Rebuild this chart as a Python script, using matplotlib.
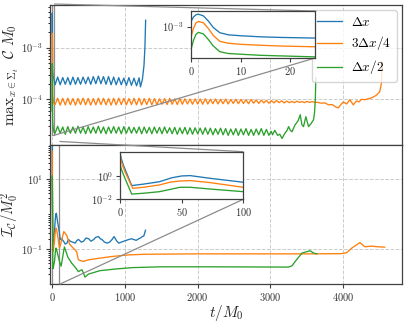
import numpy as np
import matplotlib
matplotlib.use("Agg")
import matplotlib.pyplot as plt
from matplotlib.ticker import FixedLocator, LogLocator, NullLocator, NullFormatter
from mpl_toolkits.axes_grid1.inset_locator import mark_inset

plt.rcParams['font.family'] = 'serif'
plt.rcParams['font.serif'] = ['cmr10']
plt.rcParams['mathtext.fontset'] = 'cm'
plt.rcParams['axes.unicode_minus'] = False
plt.rcParams['axes.formatter.use_mathtext'] = True

labels = [r'$\Delta x$', r'$3\Delta x/4$', r'$\Delta x/2$']
colors = ['#1f77b4', '#ff7f0e', '#2ca02c']

# ---------------- top panel: max constraint ----------------
t_early = [0, 0.5, 1, 1.5, 2.5, 3.5, 4.5, 5.8, 7.5, 10, 14, 18, 25]
c_blue_early = [1.86e-3, 3.3e-3, 4.4e-3, 4.7e-3, 3.8e-3, 2.0e-3, 8.9e-4, 4.7e-4, 3.6e-4, 3.2e-4, 2.8e-4, 2.6e-4, 2.4e-4]
c_orange_early = [2.8e-4, 7.9e-4, 1.6e-3, 1.9e-3, 1.6e-3, 7.9e-4, 3.3e-4, 1.6e-4, 1.26e-4, 1.1e-4, 9.8e-5, 8.9e-5, 8.1e-5]
c_green_early = [5.9e-5, 1.8e-4, 3.8e-4, 4.9e-4, 4.0e-4, 2.0e-4, 8.9e-5, 4.4e-5, 3.5e-5, 3.2e-5, 2.8e-5, 2.6e-5, 2.3e-5]

# oscillation extremes (troughs and peaks, alternating every half period)
t_blue_osc = np.arange(40, 1200, 35)
blue_troughs = [1.91e-4, 1.91e-4, 1.95e-4, 1.91e-4, 1.95e-4, 1.95e-4, 2.0e-4, 1.95e-4, 2.0e-4, 2.0e-4,
                1.95e-4, 1.91e-4, 1.91e-4, 1.91e-4, 1.86e-4, 1.86e-4, 1.82e-4]
blue_peaks = [2.69e-4, 2.63e-4, 2.63e-4, 2.69e-4, 2.63e-4, 2.69e-4, 2.69e-4, 2.75e-4, 2.82e-4, 2.75e-4,
              2.75e-4, 2.69e-4, 2.63e-4, 2.57e-4, 2.63e-4, 2.57e-4, 2.6e-4]
t_blue_tail = [1214, 1240, 1262, 1275, 1285]
c_blue_tail = [1.74e-4, 2.4e-4, 4.47e-4, 1.0e-3, 3.4e-3]

t_orange_osc = np.arange(40, 3640, 35)
orange_troughs = [7.9e-5, 7.7e-5, 7.8e-5, 7.8e-5, 7.7e-5, 7.9e-5, 7.8e-5, 7.7e-5, 7.8e-5, 7.9e-5,
                  7.8e-5, 7.7e-5, 7.8e-5, 7.9e-5, 7.8e-5, 7.9e-5, 7.8e-5, 7.8e-5, 7.9e-5, 7.8e-5,
                  7.9e-5, 8.0e-5, 7.9e-5, 8.0e-5, 7.9e-5, 8.0e-5, 8.1e-5, 8.0e-5, 8.1e-5, 8.0e-5,
                  8.1e-5, 8.2e-5, 8.1e-5, 8.2e-5, 8.1e-5, 8.3e-5, 8.2e-5, 8.3e-5, 8.2e-5, 8.4e-5,
                  8.3e-5, 8.5e-5, 8.4e-5, 8.5e-5, 8.6e-5, 8.5e-5, 8.6e-5, 8.6e-5, 8.7e-5, 8.6e-5,
                  8.7e-5, 8.7e-5]
orange_peaks = [1.05e-4, 1.04e-4, 1.05e-4, 1.03e-4, 1.04e-4, 1.05e-4, 1.04e-4, 1.03e-4, 1.05e-4, 1.04e-4,
                1.03e-4, 1.04e-4, 1.05e-4, 1.04e-4, 1.03e-4, 1.04e-4, 1.05e-4, 1.03e-4, 1.04e-4, 1.03e-4,
                1.02e-4, 1.03e-4, 1.04e-4, 1.02e-4, 1.03e-4, 1.02e-4, 1.01e-4, 1.02e-4, 1.01e-4, 1.02e-4,
                1.0e-4, 1.01e-4, 1.0e-4, 1.01e-4, 9.9e-5, 1.0e-4, 9.9e-5, 9.8e-5, 9.9e-5, 9.7e-5,
                9.6e-5, 9.5e-5, 9.4e-5, 9.5e-5, 9.3e-5, 9.2e-5, 9.1e-5, 9.2e-5, 9.0e-5, 9.1e-5,
                9.0e-5]
t_orange_tail = [3650, 3700, 3750, 3800, 3850, 3900, 3934, 3970, 4003, 4048, 4094, 4140, 4185,
                 4220, 4253, 4300, 4344, 4380, 4413, 4458, 4504, 4526, 4540]
c_orange_tail = [8.7e-5, 8.4e-5, 8.5e-5, 7.8e-5, 7.9e-5, 7.1e-5, 6.8e-5, 7.9e-5, 8.9e-5, 8.1e-5, 9.8e-5, 7.8e-5, 9.3e-5,
                 8.9e-5, 1.0e-4, 9.8e-5, 1.02e-4, 1.05e-4, 1.1e-4, 1.2e-4, 1.4e-4, 2.0e-4, 5.4e-4]

t_green_osc = np.arange(40, 3000, 35)
green_troughs = [2.2e-5, 2.2e-5, 2.1e-5, 2.2e-5, 2.2e-5, 2.2e-5, 2.15e-5, 2.2e-5, 2.2e-5, 2.2e-5,
                 2.15e-5, 2.2e-5, 2.2e-5, 2.15e-5, 2.2e-5, 2.2e-5, 2.2e-5, 2.15e-5, 2.2e-5, 2.15e-5,
                 2.2e-5, 2.15e-5, 2.2e-5, 2.15e-5, 2.1e-5, 2.15e-5, 2.1e-5, 2.1e-5, 2.15e-5, 2.1e-5,
                 2.1e-5, 2.05e-5, 2.1e-5, 2.05e-5, 2.0e-5, 2.05e-5, 2.0e-5, 2.05e-5, 2.0e-5, 2.0e-5,
                 2.05e-5, 2.0e-5, 2.0e-5]
green_peaks = [3.0e-5, 2.9e-5, 2.95e-5, 2.9e-5, 3.0e-5, 2.9e-5, 2.95e-5, 2.9e-5, 3.0e-5, 2.9e-5,
               2.9e-5, 2.95e-5, 2.9e-5, 2.95e-5, 2.9e-5, 2.85e-5, 2.9e-5, 2.9e-5, 2.85e-5, 2.9e-5,
               2.85e-5, 2.9e-5, 2.8e-5, 2.85e-5, 2.8e-5, 2.85e-5, 2.8e-5, 2.8e-5, 2.75e-5, 2.8e-5,
               2.75e-5, 2.7e-5, 2.75e-5, 2.7e-5, 2.65e-5, 2.7e-5, 2.65e-5, 2.7e-5, 2.6e-5, 2.65e-5,
               2.7e-5, 2.6e-5]
t_green_tail = [3010, 3030, 3060, 3100, 3130, 3160, 3200, 3230, 3251, 3275, 3297, 3340, 3380, 3411,
                3434, 3456, 3488, 3525, 3561, 3593, 3607, 3618, 3625]
c_green_tail = [2.4e-5, 2.05e-5, 2.5e-5, 2.0e-5, 2.1e-5, 1.74e-5, 2.2e-5, 2.5e-5, 2.95e-5, 2.5e-5, 2.35e-5, 3.2e-5, 3.8e-5, 5.0e-5,
                3.2e-5, 2.95e-5, 4.6e-5, 2.95e-5, 3.4e-5, 4.0e-5, 5.4e-5, 1.0e-4, 2.6e-4]

# ---------------- bottom panel: integrated constraint ----------------
t_blue_I = [0, 1, 2.7, 9.5, 19, 32, 42, 50, 57, 73, 100, 110, 130, 156, 180, 202, 225, 248, 280, 317, 340,
            363, 400, 432, 465, 501, 535, 570, 600, 639, 660, 685, 720, 754, 790, 823, 850, 869, 890, 915,
            950, 984, 1020, 1052, 1090, 1121, 1155, 1190, 1215, 1237, 1260, 1283]
I_blue = [110, 32, 8.7, 0.15, 0.2, 0.32, 0.7, 1.0, 1.07, 0.63, 0.29, 0.19, 0.2, 0.17, 0.14, 0.15, 0.19, 0.17, 0.16, 0.15, 0.18,
          0.19, 0.16, 0.17, 0.21, 0.2, 0.17, 0.19, 0.22, 0.23, 0.2, 0.19, 0.16, 0.15, 0.16, 0.19, 0.23, 0.2, 0.17, 0.15,
          0.16, 0.17, 0.18, 0.19, 0.2, 0.19, 0.18, 0.2, 0.21, 0.23, 0.24, 0.35]

t_orange_I = [0, 1, 4, 10.3, 19, 32, 41, 48.7, 57, 73, 100, 120, 160, 200, 240, 269, 337, 360, 428, 497, 633,
              815, 1043, 1270, 1600, 2000, 2500, 3000, 3500, 3975, 4050, 4116, 4231, 4276, 4299, 4390, 4480, 4572]
I_orange = [63, 18, 2.3, 0.087, 0.107, 0.17, 0.3, 0.37, 0.4, 0.27, 0.107, 0.15, 0.32, 0.25, 0.14, 0.12, 0.085, 0.05, 0.045, 0.05, 0.055,
            0.062, 0.069, 0.072, 0.073, 0.074, 0.074, 0.074, 0.074, 0.075, 0.08, 0.107, 0.155, 0.13, 0.118, 0.123, 0.118, 0.115]

t_green_I = [0, 1, 4, 9.5, 19, 32, 48.7, 57, 73, 100, 123, 168, 215, 269, 320, 360, 390, 410, 430, 451, 497,
             656, 884, 1111, 1500, 2158, 3251, 3300, 3342, 3434, 3548, 3593, 3638]
I_green = [12.3, 4.0, 0.63, 0.028, 0.033, 0.045, 0.107, 0.107, 0.076, 0.045, 0.033, 0.117, 0.06, 0.04, 0.03, 0.023, 0.025, 0.026, 0.021, 0.016, 0.0195,
           0.0245, 0.0275, 0.030, 0.0316, 0.0316, 0.031, 0.034, 0.045, 0.078, 0.091, 0.078, 0.074]


def interleave(troughs, peaks):
    out = np.empty(len(troughs) + len(peaks))
    out[0::2] = troughs
    out[1::2] = peaks
    return out


top_t = [np.concatenate([t_early, t_blue_osc, t_blue_tail]),
         np.concatenate([t_early, t_orange_osc, t_orange_tail]),
         np.concatenate([t_early, t_green_osc, t_green_tail])]
top_v = [np.concatenate([c_blue_early, interleave(blue_troughs, blue_peaks), c_blue_tail]),
         np.concatenate([c_orange_early, interleave(orange_troughs, orange_peaks), c_orange_tail]),
         np.concatenate([c_green_early, interleave(green_troughs, green_peaks), c_green_tail])]
bot_t = [t_blue_I, t_orange_I, t_green_I]
bot_v = [I_blue, I_orange, I_green]

# ---------------- figure ----------------
W, H = 407, 323
fig = plt.figure(figsize=(W / 100, H / 100), dpi=100)


def frac(l, t, r, b):
    return [l / W, 1 - b / H, (r - l) / W, (b - t) / H]


ax1 = fig.add_axes(frac(50, 5, 402, 145))
ax2 = fig.add_axes(frac(50, 145, 402, 284), sharex=ax1)

spine_c = '0.25'
for ax in (ax1, ax2):
    ax.set_yscale('log')
    for s in ax.spines.values():
        s.set_color(spine_c)
        s.set_linewidth(0.9)
    ax.tick_params(colors=spine_c, labelsize=7.5, labelcolor='0.2', length=3, pad=2)
    ax.tick_params(which='minor', length=1.8)
    ax.grid(True, which='major', ls='--', color='0.8', lw=0.7)
    ax.set_axisbelow(True)

for i in range(3):
    ax1.plot(top_t[i], top_v[i], color=colors[i], lw=0.95, label=labels[i])
    ax2.plot(bot_t[i], bot_v[i], color=colors[i], lw=0.95)

ax1.set_xlim(-30, 4810)
ax1.set_ylim(1.3e-5, 6.7e-3)
ax2.set_ylim(0.0102, 95)
ax1.yaxis.set_major_locator(FixedLocator([1e-5, 1e-4, 1e-3, 1e-2]))
ax2.yaxis.set_major_locator(FixedLocator([1e-1, 1e1]))
for ax in (ax1, ax2):
    ax.yaxis.set_minor_locator(LogLocator(base=10.0, subs=np.arange(1.0, 10.0), numticks=100))
    ax.yaxis.set_minor_formatter(NullFormatter())
ax1.set_xticks([0, 1000, 2000, 3000, 4000])
plt.setp(ax1.get_xticklabels(), visible=False)

ax1.set_ylabel(r'$\mathrm{max}_{x\in\Sigma_t}\ \ \mathcal{C}\ M_0$', fontsize=11, color='0.15')
ax2.set_ylabel(r'$\mathcal{I}_\mathcal{C}/M_0^2$', fontsize=10.5, color='0.15')
ax2.set_xlabel(r'$t/M_0$', fontsize=11, color='0.15', labelpad=0)
ax1.yaxis.set_label_coords(-0.083, 0.5)
ax2.yaxis.set_label_coords(-0.083, 0.5)

leg = ax1.legend(loc='upper right', fontsize=9.5, framealpha=0.8, edgecolor='0.8',
                 borderaxespad=0.4, labelspacing=0.45, handlelength=1.9, handletextpad=0.7)
leg.set_zorder(20)

# ---------------- insets ----------------
ins1 = fig.add_axes(frac(191, 11, 315, 58))
ins2 = fig.add_axes(frac(120, 151.7, 243.3, 199.3))
for i in range(3):
    ins1.plot(top_t[i], top_v[i], color=colors[i], lw=0.95)
    ins2.plot(bot_t[i], bot_v[i], color=colors[i], lw=0.95)
ins1.set_yscale('log')
ins2.set_yscale('log')
ins1.set_xlim(0, 25)
ins1.set_ylim(2e-5, 7e-3)
ins2.set_xlim(0, 100)
ins2.set_ylim(0.01, 120)
ins1.set_xticks([0, 10, 20])
ins2.set_xticks([0, 50, 100])
ins1.yaxis.set_major_locator(FixedLocator([1e-3]))
ins2.yaxis.set_major_locator(FixedLocator([1e-2, 1e0]))
for ax in (ins1, ins2):
    ax.yaxis.set_minor_locator(NullLocator())
    for s in ax.spines.values():
        s.set_color(spine_c)
        s.set_linewidth(0.9)
    ax.tick_params(colors=spine_c, labelsize=7.5, labelcolor='0.2', length=3, pad=2)

mark_inset(ax1, ins1, loc1=1, loc2=4, fc='none', ec='0.55', lw=0.9)
mark_inset(ax2, ins2, loc1=1, loc2=4, fc='none', ec='0.55', lw=0.9)

fig.savefig('out.png', dpi=100)
